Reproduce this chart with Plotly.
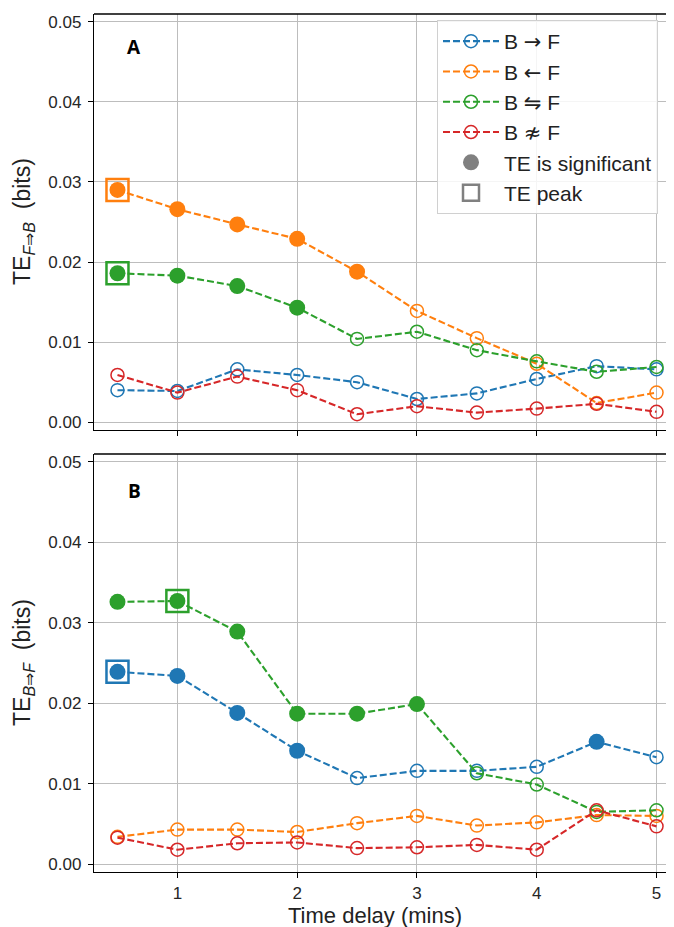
import plotly.graph_objects as go

# ---------------- data ----------------
delays = [0.5, 1, 1.5, 2, 2.5, 3, 3.5, 4, 4.5, 5]
series_arrows = ["\u2192", "\u2190", "\u21cb", "\u2249"]
series_colors = ["#1f77b4", "#ff7f0e", "#2ca02c", "#d62728"]

# Panel A: TE F=>B
te_a_bf = [0.0040, 0.0039, 0.0066, 0.0059, 0.0050, 0.0029, 0.0036, 0.0054, 0.0070, 0.0066]
te_a_fb = [0.0290, 0.0266, 0.0247, 0.0229, 0.0188, 0.0139, 0.0105, 0.0073, 0.0024, 0.0037]
te_a_bi = [0.0186, 0.0183, 0.0170, 0.0143, 0.0104, 0.0113, 0.0090, 0.0076, 0.0063, 0.0069]
te_a_no = [0.0059, 0.0037, 0.0057, 0.0040, 0.0010, 0.0020, 0.0012, 0.0017, 0.0023, 0.0013]
sig_a_bf = [0, 0, 0, 0, 0, 0, 0, 0, 0, 0]
sig_a_fb = [1, 1, 1, 1, 1, 0, 0, 0, 0, 0]
sig_a_bi = [1, 1, 1, 1, 0, 0, 0, 0, 0, 0]
sig_a_no = [0, 0, 0, 0, 0, 0, 0, 0, 0, 0]
peak_a = [None, 0, 0, None]  # index of TE peak per series (None = no peak marker)

# Panel B: TE B=>F
te_b_bf = [0.0239, 0.0234, 0.0188, 0.0141, 0.0107, 0.0116, 0.0116, 0.0121, 0.0152, 0.0133]
te_b_fb = [0.0034, 0.0043, 0.0043, 0.0040, 0.0051, 0.0060, 0.0048, 0.0052, 0.0061, 0.0060]
te_b_bi = [0.0326, 0.0327, 0.0289, 0.0187, 0.0187, 0.0199, 0.0113, 0.0099, 0.0065, 0.0067]
te_b_no = [0.0033, 0.0018, 0.0026, 0.0027, 0.0020, 0.0021, 0.0024, 0.0018, 0.0067, 0.0047]
sig_b_bf = [1, 1, 1, 1, 0, 0, 0, 0, 1, 0]
sig_b_fb = [0, 0, 0, 0, 0, 0, 0, 0, 0, 0]
sig_b_bi = [1, 1, 1, 1, 1, 1, 0, 0, 0, 0]
sig_b_no = [0, 0, 0, 0, 0, 0, 0, 0, 0, 0]
peak_b = [0, None, 1, None]

y_ticks = [0.00, 0.01, 0.02, 0.03, 0.04, 0.05]
x_ticks = [1, 2, 3, 4, 5]
y_range = [-0.00097, 0.05097]
x_range = [0.304, 5.196]

panels = [
    ("x", "y", [te_a_bf, te_a_fb, te_a_bi, te_a_no], [sig_a_bf, sig_a_fb, sig_a_bi, sig_a_no], peak_a),
    ("x2", "y2", [te_b_bf, te_b_fb, te_b_bi, te_b_no], [sig_b_bf, sig_b_fb, sig_b_bi, sig_b_no], peak_b),
]

FONT = "Liberation Sans, Arial, Helvetica, sans-serif"
SYM = "DejaVu Sans"
DASH = "7px,3px"

fig = go.Figure()

for pi, (xa, ya, vals, sigs, peaks) in enumerate(panels):
    for si in range(4):
        c = series_colors[si]
        label = 'B <span style="font-family:%s">%s</span> F' % (SYM, series_arrows[si])
        fig.add_trace(go.Scatter(
            x=delays, y=vals[si], mode="lines+markers", xaxis=xa, yaxis=ya,
            name=label, showlegend=(pi == 0), legendrank=si + 1, legendgroup="g%d" % si,
            line=dict(color=c, width=2.1, dash=DASH),
            marker=dict(symbol="circle-open", size=13, color=c, line=dict(width=1.5, color=c)),
        ))
    for si in range(4):
        c = series_colors[si]
        sx = [d for d, s in zip(delays, sigs[si]) if s]
        sy = [v for v, s in zip(vals[si], sigs[si]) if s]
        if sx:
            fig.add_trace(go.Scatter(
                x=sx, y=sy, mode="markers", xaxis=xa, yaxis=ya, showlegend=False,
                marker=dict(symbol="circle", size=16, color=c, line=dict(width=0)),
            ))
        if peaks[si] is not None:
            k = peaks[si]
            fig.add_trace(go.Scatter(
                x=[delays[k]], y=[vals[si][k]], mode="markers", xaxis=xa, yaxis=ya,
                showlegend=False,
                marker=dict(symbol="square-open", size=22, color=c, line=dict(width=2.5, color=c)),
            ))

# legend-only entries
fig.add_trace(go.Scatter(x=[None], y=[None], mode="markers", name="TE is significant",
                         legendrank=5, legendgroup="g5",
                         marker=dict(symbol="circle", size=16, color="#808080")))
fig.add_trace(go.Scatter(x=[None], y=[None], mode="markers", name="TE peak", legendrank=6,
                         legendgroup="g6",
                         marker=dict(symbol="square-open", size=21, color="#808080",
                                     line=dict(width=2.5, color="#808080"))))

# page is offset by the default 8px body margin
OFF = 8
W, H = 674, 927
# desired plot area in page pixels
P_LEFT, P_RIGHT, P_TOP, P_BOTTOM = 94, 680, 14, 872
A_BOTTOM, B_TOP = 430, 454
ml = P_LEFT - OFF
mt = P_TOP - OFF
mr = W - (P_RIGHT - OFF)
mb = H - (P_BOTTOM - OFF)
plot_w = P_RIGHT - P_LEFT
plot_h = P_BOTTOM - P_TOP
dom_a = [(P_BOTTOM - A_BOTTOM) / plot_h, 1.0]
dom_b = [0.0, (P_BOTTOM - B_TOP) / plot_h]


def px_x(p):
    return (p - P_LEFT) / plot_w


def px_y(p):
    return (P_BOTTOM - p) / plot_h


axis_common = dict(
    showgrid=True, gridcolor="#bdbdbd", gridwidth=1,
    showline=True, linecolor="black", linewidth=1.3,
    ticks="outside", ticklen=5, tickcolor="black", tickwidth=1.2,
    zeroline=False, tickfont=dict(family=FONT, size=17, color="#262626"),
)

fig.update_layout(
    width=W, height=H,
    margin=dict(l=ml, r=mr, t=mt, b=mb, autoexpand=False),
    paper_bgcolor="white", plot_bgcolor="white",
    font=dict(family=FONT, color="#222222"),
    xaxis=dict(domain=[0, 1], range=x_range, tickvals=x_ticks, showticklabels=False,
               anchor="y", **axis_common),
    yaxis=dict(domain=dom_a, range=y_range, tickvals=y_ticks, tickformat=".2f",
               anchor="x", ticklabelstandoff=3, **axis_common),
    xaxis2=dict(domain=[0, 1], range=x_range, tickvals=x_ticks, anchor="y2",
                ticklabelstandoff=0, **axis_common),
    yaxis2=dict(domain=dom_b, range=y_range, tickvals=y_ticks, tickformat=".2f",
                anchor="x2", ticklabelstandoff=3, **axis_common),
    legend=dict(
        x=px_x(437), y=px_y(20), xanchor="left", yanchor="top",
        bgcolor="rgba(255,255,255,0.85)", bordercolor="#d0d0d0", borderwidth=1,
        font=dict(family=FONT, size=21, color="#222222"),
        itemwidth=56, tracegroupgap=4, traceorder="normal",
    ),
    showlegend=True,
)

# top border lines of each panel (right side is cropped in reference)
for y0 in (1.0, dom_b[1]):
    fig.add_shape(type="line", xref="paper", yref="paper", x0=0, x1=1, y0=y0, y1=y0,
                  line=dict(color="black", width=1.3))

for txt, yy in (("<b>A</b>", 47), ("<b>B</b>", 491)):
    fig.add_annotation(xref="paper", yref="paper", showarrow=False, x=px_x(134), y=px_y(yy),
                       xanchor="center", yanchor="middle", text=txt,
                       font=dict(family="Open Sans, DejaVu Sans, sans-serif", size=19,
                                 color="black"))

fig.add_annotation(xref="paper", yref="paper", showarrow=False, x=px_x(23), y=px_y(222),
                   xanchor="center", yanchor="middle",
                   textangle=-90, text="TE<sub><i>F</i>\u21d2<i>B</i></sub>  (bits)",
                   font=dict(family=FONT, size=23, color="#222222"))
fig.add_annotation(xref="paper", yref="paper", showarrow=False, x=px_x(23), y=px_y(663),
                   xanchor="center", yanchor="middle",
                   textangle=-90, text="TE<sub><i>B</i>\u21d2<i>F</i></sub>  (bits)",
                   font=dict(family=FONT, size=23, color="#222222"))
fig.add_annotation(xref="paper", yref="paper", showarrow=False, x=px_x(375), y=px_y(915),
                   xanchor="center", yanchor="middle",
                   text="Time delay (mins)", font=dict(family=FONT, size=22, color="#222222"))

fig.write_html("out.html")
